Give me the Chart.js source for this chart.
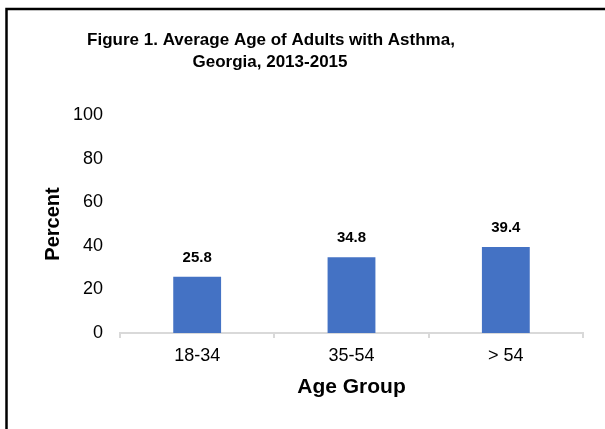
<!DOCTYPE html>
<html>
<head>
<meta charset="utf-8">
<script src="https://cdn.jsdelivr.net/npm/chart.js@4.4.1/dist/chart.umd.min.js"></script>
<style>
  html, body { margin: 0; padding: 0; background: #fff; }
  #wrap { position: relative; width: 605px; height: 429px; }
</style>
</head>
<body>
<div id="wrap"><canvas id="c" width="605" height="429"></canvas></div>
<script>
const categories = ["18-34", "35-54", "> 54"];
const values = [25.8, 34.8, 39.4];
const titleLines = ["Figure 1. Average Age of Adults with Asthma,", "Georgia, 2013-2015"];
const xTitle = "Age Group";
const yTitle = "Percent";

const FONT = "Arial, 'Liberation Sans', sans-serif";

const framePlugin = {
  id: 'frame',
  afterDraw(chart) {
    const ctx = chart.ctx;
    ctx.save();
    ctx.strokeStyle = '#000';
    ctx.lineWidth = 2.5;
    ctx.beginPath();
    ctx.moveTo(6.5, 429);
    ctx.lineTo(6.5, 9);
    ctx.lineTo(605, 9);
    ctx.stroke();
    ctx.fillStyle = '#000';
    ctx.font = "bold 17px " + FONT;
    ctx.textAlign = 'center';
    ctx.textBaseline = 'alphabetic';
    ctx.fillText(titleLines[0], 271, 45);
    ctx.fillText(titleLines[1], 270, 67);
    ctx.restore();
  }
};

const labelPlugin = {
  id: 'valLabels',
  afterDatasetsDraw(chart) {
    const ctx = chart.ctx;
    const meta = chart.getDatasetMeta(0);
    ctx.save();
    ctx.fillStyle = '#000';
    ctx.font = "bold 15px " + FONT;
    ctx.textAlign = 'center';
    ctx.textBaseline = 'alphabetic';
    meta.data.forEach((bar, i) => {
      ctx.fillText(values[i].toFixed(1), bar.x, bar.y - 15);
    });
    ctx.restore();
  }
};

new Chart(document.getElementById('c'), {
  type: 'bar',
  data: {
    labels: categories,
    datasets: [{
      data: values,
      backgroundColor: '#4472C4',
      borderWidth: 0,
      barPercentage: 0.62,
      categoryPercentage: 0.5
    }]
  },
  options: {
    responsive: false,
    animation: false,
    devicePixelRatio: 1,
    layout: { padding: { left: 41, right: 22, top: 115, bottom: 29 } },
    plugins: {
      legend: { display: false },
      title: { display: false },
      tooltip: { enabled: false }
    },
    scales: {
      x: {
        offset: true,
        grid: {
          display: true,
          drawOnChartArea: false,
          drawTicks: true,
          tickLength: 5,
          color: '#d9d9d9',
          lineWidth: 2
        },
        border: { display: true, color: '#d9d9d9', width: 2 },
        ticks: { color: '#000', font: { family: FONT, size: 18 }, padding: 7, maxRotation: 0 },
        title: {
          display: true, text: xTitle, color: '#000',
          font: { family: FONT, size: 21, weight: 'bold' },
          padding: 0
        },
        afterFit(scale) { scale.height = 67; }
      },
      y: {
        min: 0, max: 100,
        ticks: { stepSize: 20, color: '#000', font: { family: FONT, size: 18 }, padding: 17 },
        grid: { display: false, drawTicks: false },
        border: { display: false },
        title: {
          display: true, text: yTitle, color: '#000',
          font: { family: FONT, size: 20, weight: 'bold' },
          padding: 0
        },
        afterFit(scale) { scale.width = 79; }
      }
    }
  },
  plugins: [framePlugin, labelPlugin]
});
</script>
</body>
</html>
